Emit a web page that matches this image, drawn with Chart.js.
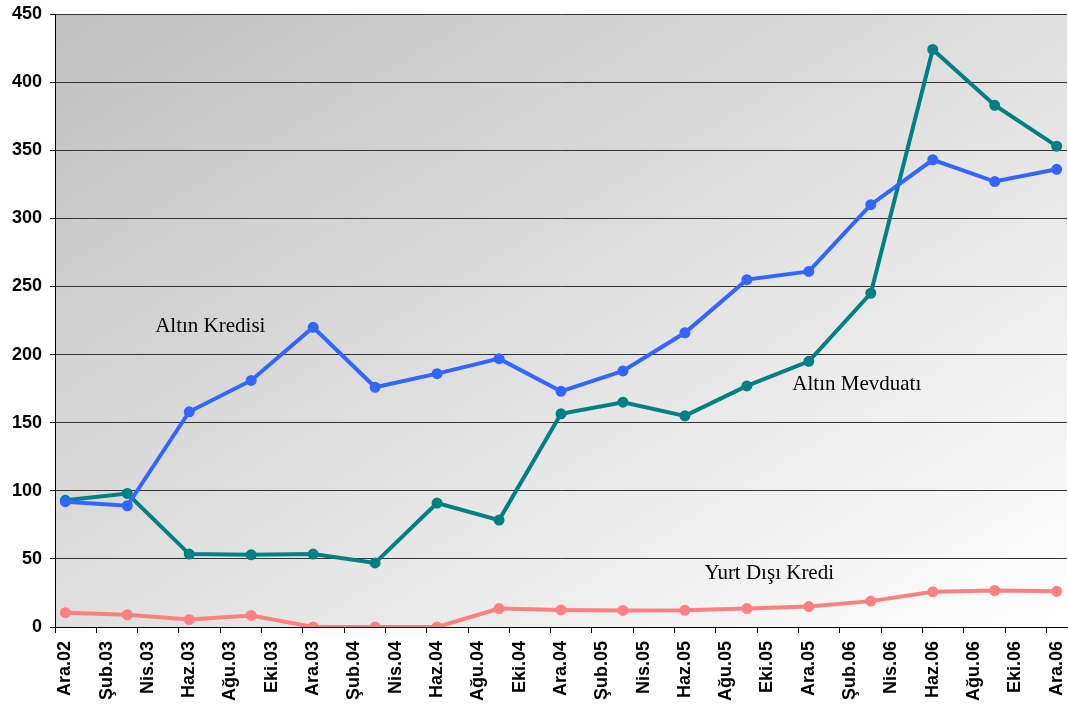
<!DOCTYPE html>
<html>
<head>
<meta charset="utf-8">
<script src="https://cdn.jsdelivr.net/npm/chart.js@4/dist/chart.umd.min.js"></script>
<style>
  html, body { margin: 0; padding: 0; background: #fff; }
  #wrap { width: 1068px; height: 704px; position: relative; }
</style>
</head>
<body>
<div id="wrap"><canvas id="chart"></canvas></div>
<script>
// months counted from Ara.02 (0) to Ara.06 (48), data is quarterly
const months = [0, 3, 6, 9, 12, 15, 18, 21, 24, 27, 30, 33, 36, 39, 42, 45, 48]
const tickLabels = ["Ara.02", "Şub.03", "Nis.03", "Haz.03", "Ağu.03", "Eki.03", "Ara.03", "Şub.04", "Nis.04",
  "Haz.04", "Ağu.04", "Eki.04", "Ara.04", "Şub.05", "Nis.05", "Haz.05", "Ağu.05", "Eki.05", "Ara.05",
  "Şub.06", "Nis.06", "Haz.06", "Ağu.06", "Eki.06", "Ara.06"]

const altinKredisi = [92, 89, 158, 181, 220, 176, 186, 197, 173, 188, 216, 255, 261, 310, 343, 327, 336]
const altinMevduati = [93, 98, 53.5, 53, 53.5, 47, 91, 78.5, 156.5, 165, 155, 177, 195, 245, 424, 383, 353]
const yurtDisiKredi = [10.5, 9, 5.5, 8.5, 0, 0, 0, 13.5, 12.5, 12.2, 12.3, 13.5, 15, 19, 25.8, 26.8, 26.2]

// series name labels, placed in data coordinates (month, value)
const noteTexts = ["Altın Kredisi", "Altın Mevduatı", "Yurt Dışı Kredi"]
const noteMonths = [4.35, 35.2, 30.95]
const noteValues = [216.5, 174, 35.3]

const toPoints = vals => vals.map((v, i) => ({ x: months[i], y: v }))

const bgPlugin = {
  id: "bgGradient",
  beforeDraw(chart) {
    const { ctx, chartArea: a } = chart
    const w = a.right - a.left, h = a.bottom - a.top
    const k = 2 * w * h / (w * w + h * h)
    const grad = ctx.createLinearGradient(a.left, a.top, a.left + h * k, a.top + w * k)
    grad.addColorStop(0, "#c0c0c0")
    grad.addColorStop(1, "#ffffff")
    ctx.save()
    ctx.fillStyle = grad
    ctx.fillRect(a.left, a.top, w, h)
    ctx.restore()
  }
}

const notesPlugin = {
  id: "seriesNotes",
  afterDatasetsDraw(chart) {
    const { ctx, scales } = chart
    ctx.save()
    ctx.font = '21px "Liberation Serif", "Times New Roman", serif'
    ctx.fillStyle = "#000"
    ctx.textAlign = "left"
    ctx.textBaseline = "alphabetic"
    for (let i = 0; i < noteTexts.length; i++) {
      ctx.fillText(noteTexts[i], scales.x.getPixelForValue(noteMonths[i]), scales.y.getPixelForValue(noteValues[i]))
    }
    ctx.restore()
  }
}

const lineStyle = color => ({
  borderColor: color,
  backgroundColor: color,
  pointBackgroundColor: color,
  pointBorderColor: color,
  borderWidth: 4,
  pointRadius: 3.5,
  pointHoverRadius: 3.5,
  tension: 0,
  fill: false
})

new Chart(document.getElementById("chart"), {
  type: "line",
  data: {
    datasets: [
      { label: "Altın Kredisi", data: toPoints(altinKredisi), ...lineStyle("#3366ff") },
      { label: "Altın Mevduatı", data: toPoints(altinMevduati), ...lineStyle("#008080") },
      { label: "Yurt Dışı Kredi", data: toPoints(yurtDisiKredi), ...lineStyle("#ff8080") }
    ]
  },
  options: {
    responsive: true,
    maintainAspectRatio: false,
    animation: false,
    layout: { autoPadding: false, padding: { top: 14, right: 1, left: 0, bottom: 0 } },
    plugins: { legend: { display: false }, tooltip: { enabled: false } },
    scales: {
      x: {
        type: "linear",
        min: -0.5,
        max: 48.5,
        afterBuildTicks: scale => {
          scale.ticks = tickLabels.map((l, i) => ({ value: i * 2 - 0.5 }))
        },
        afterFit: scale => {
          scale.height = 77
          scale.paddingLeft = 0
          scale.paddingRight = 0
        },
        ticks: {
          autoSkip: false,
          minRotation: 90,
          maxRotation: 90,
          labelOffset: 10.3,
          padding: 8,
          color: "#000",
          font: { family: '"Liberation Sans", Arial, sans-serif', size: 18, weight: "bold" },
          callback: (v, i) => tickLabels[i]
        },
        grid: { drawOnChartArea: false, drawTicks: true, tickLength: 6, tickColor: "#000" },
        border: { color: "#000", width: 1 }
      },
      y: {
        min: 0,
        max: 450,
        afterFit: scale => {
          scale.width = 55
          scale.paddingTop = 0
          scale.paddingBottom = 0
        },
        ticks: {
          stepSize: 50,
          padding: 8,
          color: "#000",
          font: { family: '"Liberation Sans", Arial, sans-serif', size: 18, weight: "bold" }
        },
        grid: { color: "#333", lineWidth: 1, tickLength: 5, tickColor: "#000" },
        border: { color: "#000", width: 1 }
      }
    }
  },
  plugins: [bgPlugin, notesPlugin]
})
</script>
</body>
</html>
